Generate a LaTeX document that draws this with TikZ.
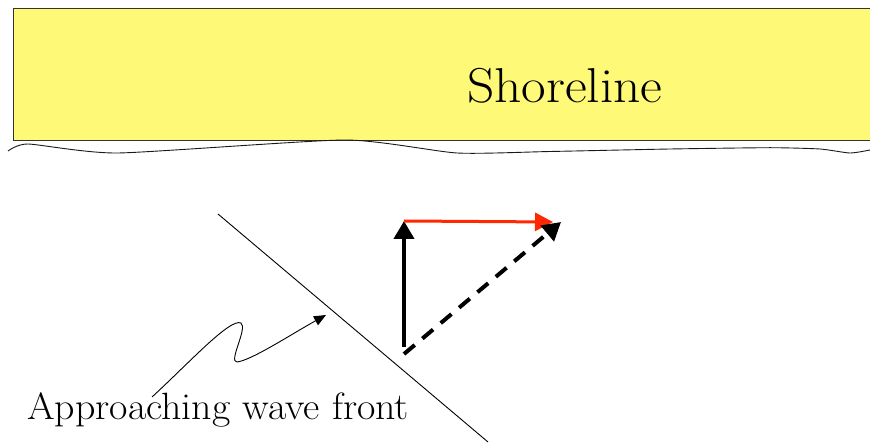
\documentclass[tikz,border=0pt]{standalone}
\usepackage{fontspec}
\usetikzlibrary{arrows.meta}
\definecolor{shoreyellow}{RGB}{255,249,120}
\definecolor{vecred}{RGB}{255,40,0}
\tikzset{
  px/.style={x=1pt,y=-1pt},
  bigarrow/.style={line width=4pt,-{Triangle[length=18pt,width=20pt]}},
  thinline/.style={line width=0.9pt},
}
\begin{document}
\begin{tikzpicture}[px]
\useasboundingbox (0,0) rectangle (870,443);
% shoreline block
\fill[shoreyellow] (13,8) rectangle (880,140);
\draw[line width=0.9pt,black!80] (880,8) -- (13,8) -- (13,140) -- (880,140);
\node[anchor=base west,inner sep=0,font=\fontsize{49}{50}\selectfont] (shore) at (467,103) {\scalebox{1.09}[1]{Shoreline}};
% ragged coast line
\draw[thinline,black!90] plot[smooth,tension=0.35] coordinates {(8,151) (28,144) (118,153) (345,140) (457,153) (550,151.5) (670,149) (770,147.7) (820,149) (850,153) (870,150)};
% wave front
\coordinate (wf1) at (218,214);
\coordinate (wf2) at (488,442);
\draw[thinline] (wf1) -- (wf2);
% vectors
\coordinate (o) at (404,347);
\coordinate (top) at (404,221);
\coordinate (redtip) at (553,222);
\coordinate (dstart) at (404,354);
\coordinate (dtip) at (561,222);
\draw[bigarrow] (o) -- (top);
\draw[line width=3pt,vecred,-{Triangle[length=18pt,width=18pt]}] (top) -- (redtip);
\draw[bigarrow,dash pattern=on 14pt off 10pt] (dstart) -- (dtip);
% label and squiggle
\node[anchor=base west,inner sep=0,font=\fontsize{38}{40}\selectfont] (lbl) at (27,420) {\scalebox{1.05}[1]{Approaching wave front}};
\coordinate (sq0) at (152,397);
\coordinate (sqtip) at (326,315);
\draw[thinline,-{Triangle[length=12pt,width=10pt]}] (sq0) .. controls (190,362) and (230,318) .. (241,323) .. controls (248,328) and (228,362) .. (237,362) .. controls (252,360) and (290,335) .. (sqtip);
\end{tikzpicture}
\end{document}
